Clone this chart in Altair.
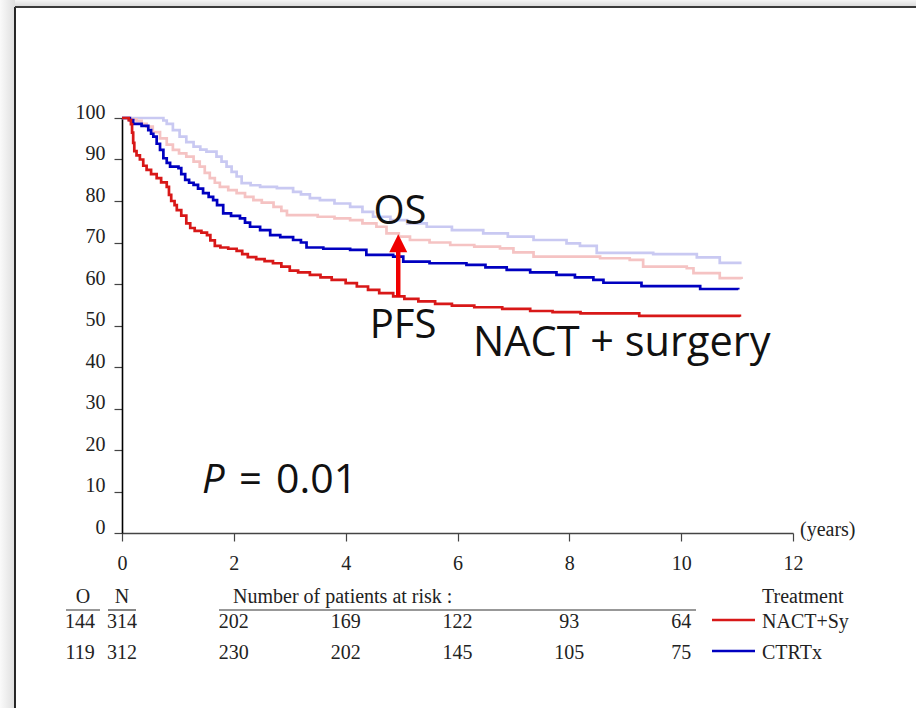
import altair as alt
import pandas as pd

# Kaplan-Meier estimates: time in years, percentage event-free
nact_pfs_t = [0, 0.12, 0.16, 0.18, 0.2, 0.22, 0.26, 0.32, 0.38, 0.44, 0.52, 0.62, 0.7, 0.8, 0.84, 0.88,
              0.94, 0.98, 1.06, 1.15, 1.22, 1.3, 1.42, 1.52, 1.58, 1.66, 1.76, 1.9, 2.05, 2.15, 2.25,
              2.4, 2.55, 2.7, 2.85, 3.0, 3.15, 3.36, 3.55, 3.75, 4.0, 4.2, 4.4, 4.6, 4.85, 5.05, 5.3,
              5.6, 5.9, 6.3, 6.8, 7.3, 7.7, 8.2, 9.25, 11.05]
nact_pfs_s = [100, 99.5, 98.5, 96.5, 94, 92, 91, 90, 88.5, 87.5, 86.5, 85.5, 84.5, 83.4, 81.5, 80,
              79, 77.8, 76.5, 74.6, 73.5, 72.8, 72.4, 71.8, 70.5, 69.2, 68.8, 68.5, 68, 67.2, 66.5,
              66, 65.5, 65, 64.2, 63.2, 62.8, 62.2, 61.6, 61, 60.2, 59.4, 58.6, 57.8, 57, 56.4, 55.8,
              55.2, 54.8, 54.4, 54, 53.5, 53.2, 52.9, 52.3, 52.1]

ctrt_pfs_t = [0, 0.14, 0.2, 0.35, 0.47, 0.52, 0.56, 0.62, 0.68, 0.74, 0.8, 0.86, 1.01, 1.06, 1.13,
              1.2, 1.28, 1.36, 1.45, 1.55, 1.63, 1.7, 1.81, 1.95, 2.11, 2.2, 2.29, 2.47, 2.65, 2.83,
              3.06, 3.2, 3.3, 3.6, 4.08, 4.37, 4.85, 5.03, 5.5, 6.16, 6.5, 6.88, 7.3, 7.77, 8.1, 8.43,
              8.61, 9.29, 10.34, 11.02]
ctrt_pfs_s = [100, 99.5, 98.6, 98.1, 97.1, 96.2, 95.5, 93.8, 92.3, 90.3, 89.2, 88.3, 87.9, 86.5, 85.1,
              84.4, 83.9, 83, 81.9, 81, 80.2, 79, 77, 76.4, 75.8, 74.8, 73.8, 73, 71.8, 71.3,
              70.6, 70, 68.8, 68.5, 68.2, 67, 66.6, 65.4, 65, 64.6, 64, 63.4, 62.8, 62.2, 61.6, 61,
              60.3, 59.5, 58.8, 58.7]

nact_os_t = [0, 0.15, 0.26, 0.35, 0.44, 0.55, 0.68, 0.8, 0.91, 1.02, 1.15, 1.28, 1.39, 1.48, 1.57,
             1.66, 1.75, 1.9, 2.05, 2.2, 2.35, 2.5, 2.71, 2.85, 2.95, 3.5, 3.8, 4.08, 4.3, 4.55,
             4.73, 4.95, 5.15, 5.5, 5.87, 6.3, 6.76, 7.0, 7.36, 8.55, 9.08, 9.32, 10.1, 10.22,
             10.69, 11.08]
nact_os_s = [100, 99.7, 99.3, 98.6, 97.9, 96.6, 95.1, 93.6, 92.3, 91.5, 90.7, 89.5, 88.3, 86.8, 85.5,
             84.4, 83.4, 82.6, 81.9, 81, 80.2, 79.6, 78.6, 77.6, 76.6, 76.2, 75.8, 75.4, 74.6, 73.8,
             72.2, 71.4, 70.6, 70, 69.4, 69, 68.6, 67.6, 66.6, 66.2, 65.8, 64.2, 63.8, 62.6,
             61.4, 61.2]

ctrt_os_t = [0, 0.74, 0.8, 0.91, 1.03, 1.15, 1.28, 1.4, 1.51, 1.69, 1.78, 1.87, 1.96, 2.05, 2.14,
             2.3, 2.47, 2.77, 3.06, 3.2, 3.36, 3.54, 3.8, 4.08, 4.3, 4.49, 4.8, 5.1, 5.45, 5.9,
             6.46, 6.9, 7.36, 7.95, 8.19, 8.49, 9.5, 10.28, 10.69, 11.08]
ctrt_os_s = [100, 99.4, 98.6, 97.1, 95.5, 94.2, 93.1, 92.4, 91.9, 90.7, 89.5, 88.3, 87, 85.9, 84.3,
             83.8, 83.4, 83.1, 82.2, 81.6, 80.7, 80.2, 79.4, 78.6, 77.4, 76.2, 75.4, 74.6, 73.8, 73,
             72.2, 71.4, 70.6, 69.8, 69.2, 67.5, 67.2, 66.4, 65.1, 65.1]

# Number-at-risk table
risk_years = [2, 4, 6, 8, 10]
risk_nact = [202, 169, 122, 93, 64]
risk_ctrt = [230, 202, 145, 105, 75]
arms = ["NACT+Sy", "CTRTx"]
events_o = [144, 119]
totals_n = [314, 312]

# Arrow from PFS up to OS (NACT + surgery arm)
arrow_year = 4.94
arrow_from = 56.9
arrow_to = 68.4
arrow_tip = 69.8

RED = "#d81818"
BLUE = "#0000c0"
LIGHT_RED = "#f5c3c3"
LIGHT_BLUE = "#c9c9f2"
SERIF = "Liberation Serif"
SANS = "Open Sans"
TXT = 20

W, H = 671, 415  # plot area (x: 0-12 years, y: 0-100 %)

xs = alt.Scale(domain=[0, 12], nice=False)
ys = alt.Scale(domain=[0, 100], nice=False)


def km_line(t, s, color, width=2.7):
    df = pd.DataFrame({"t": t, "s": s})
    return alt.Chart(df).mark_line(
        interpolate="step-after", color=color, strokeWidth=width
    ).encode(
        x=alt.X("t:Q", scale=xs),
        y=alt.Y("s:Q", scale=ys),
    )


def label(text, x, y, size=TXT, font=SERIF, align="left", baseline="middle",
          style="normal", color="#222222"):
    return alt.Chart(pd.DataFrame({"txt": [text]})).mark_text(
        font=font, fontSize=size, align=align, baseline=baseline,
        fontStyle=style, color=color
    ).encode(x=alt.value(x), y=alt.value(y), text="txt:N")


def hline(x1, x2, y, color="#333333", width=1.2):
    return alt.Chart(pd.DataFrame({"k": [0]})).mark_rule(
        color=color, strokeWidth=width
    ).encode(x=alt.value(x1), x2=alt.value(x2), y=alt.value(y))


def vline(x, y1, y2, color="#111111", width=1.6):
    return alt.Chart(pd.DataFrame({"k": [0]})).mark_rule(
        color=color, strokeWidth=width
    ).encode(x=alt.value(x), y=alt.value(y1), y2=alt.value(y2))


# Axes
axes = alt.Chart(pd.DataFrame({"t": [0], "s": [0]})).mark_point(opacity=0).encode(
    x=alt.X("t:Q", scale=xs, axis=alt.Axis(
        values=[0, 2, 4, 6, 8, 10, 12], format="d", title=None, grid=False,
        labelFont=SERIF, labelFontSize=TXT, labelColor="#222222", labelFlush=False,
        tickSize=8, tickColor="#444444", tickWidth=1.2,
        domainColor="#444444", domainWidth=1.5, labelPadding=12,
    )),
    y=alt.Y("s:Q", scale=ys, axis=alt.Axis(
        values=list(range(0, 101, 10)), format="d", title=None, grid=False,
        labelFont=SERIF, labelFontSize=TXT, labelColor="#222222", labelFlush=False,
        tickSize=8, tickColor="#444444", tickWidth=1.2,
        domainColor="#000000", domainWidth=1.6, labelPadding=9, labelOffset=-6,
    )),
)

curves = [
    km_line(ctrt_os_t, ctrt_os_s, LIGHT_BLUE),
    km_line(nact_os_t, nact_os_s, LIGHT_RED),
    km_line(ctrt_pfs_t, ctrt_pfs_s, BLUE),
    km_line(nact_pfs_t, nact_pfs_s, RED),
]

arrow_df = pd.DataFrame({"t": [arrow_year], "s0": [arrow_from], "s1": [arrow_to], "tip": [arrow_tip]})
arrow_shaft = alt.Chart(arrow_df).mark_rule(color="#f00000", strokeWidth=4.5).encode(
    x=alt.X("t:Q", scale=xs), y=alt.Y("s0:Q", scale=ys), y2="s1:Q"
)
arrow_head = alt.Chart(arrow_df).mark_point(
    shape="M-1,1L1,1L0,-1Z", size=324, filled=True, color="#f00000", opacity=1
).encode(x=alt.X("t:Q", scale=xs), y=alt.Y("tip:Q", scale=ys))

annotations = [
    label("OS", 278, 106, size=40, font=SANS, align="center", baseline="alphabetic", color="#111111"),
    label("PFS", 281, 220, size=40, font=SANS, align="center", baseline="alphabetic", color="#111111"),
    label("NACT + surgery", 351, 238, size=41.5, font=SANS, baseline="alphabetic", color="#111111"),
    label("P", 80, 375, size=40, font=SANS, baseline="alphabetic", style="italic", color="#111111"),
    label("=", 117, 375, size=40, font=SANS, baseline="alphabetic", color="#111111"),
    label("0.01", 154, 375, size=41, font=SANS, baseline="alphabetic", color="#111111"),
    label("(years)", 678, 412, size=TXT),
]

# Number-at-risk table below the x axis
row_y = [504, 535]
table = [
    label("O", -39, 479, align="center"),
    label("N", 0, 479, align="center"),
    hline(-56, -22, 492),
    hline(-14, 14, 492),
    label("Number of patients at risk :", 111, 479),
    hline(97, 574, 492),
    label("Treatment", 640, 479),
]
for i, (arm, o, n, risk, col) in enumerate(zip(arms, events_o, totals_n,
                                                [risk_nact, risk_ctrt], [RED, BLUE])):
    table.append(label(str(o), -42, row_y[i], align="center"))
    table.append(label(str(n), 0, row_y[i], align="center"))
    table.append(hline(590, 633, row_y[i] - 2, color=col, width=2.6))
    table.append(label(arm, 640, row_y[i]))
    rdf = pd.DataFrame({"year": risk_years, "n": risk})
    table.append(
        alt.Chart(rdf).mark_text(font=SERIF, fontSize=TXT, color="#222222", baseline="middle").encode(
            x=alt.X("year:Q", scale=xs), y=alt.value(row_y[i]), text="n:Q"
        )
    )

# Slide frame with soft shadow along the top and left edges
frame_shadow_left = alt.Chart(pd.DataFrame({"k": [0]})).mark_rect(
    fill={"gradient": "linear", "x1": 0, "y1": 0, "x2": 1, "y2": 0,
          "stops": [{"offset": 0, "color": "#fafafa"}, {"offset": 1, "color": "#dedede"}]}
).encode(x=alt.value(-122), x2=alt.value(-107), y=alt.value(-118), y2=alt.value(590))
frame_shadow_top = alt.Chart(pd.DataFrame({"k": [0]})).mark_rect(
    fill={"gradient": "linear", "x1": 0, "y1": 0, "x2": 0, "y2": 1,
          "stops": [{"offset": 0, "color": "#f4f4f4"}, {"offset": 1, "color": "#d8d8d8"}]}
).encode(x=alt.value(-107), x2=alt.value(794), y=alt.value(-118), y2=alt.value(-111))
frame = [
    frame_shadow_left,
    frame_shadow_top,
    vline(-107, -111, 590, color="#111111", width=1.8),
    hline(-107, 794, -111, color="#3a3a3a", width=1.8),
]

chart = alt.layer(
    *frame, axes, *curves, arrow_shaft, arrow_head, *annotations, *table
).properties(
    width=W, height=H,
    autosize=alt.AutoSizeParams(type="none"),
    padding={"left": 122, "top": 118, "right": 123, "bottom": 175},
    background="white",
).configure_view(stroke=None)

chart.save("out.html", embed_options={"renderer": "svg", "actions": False})
